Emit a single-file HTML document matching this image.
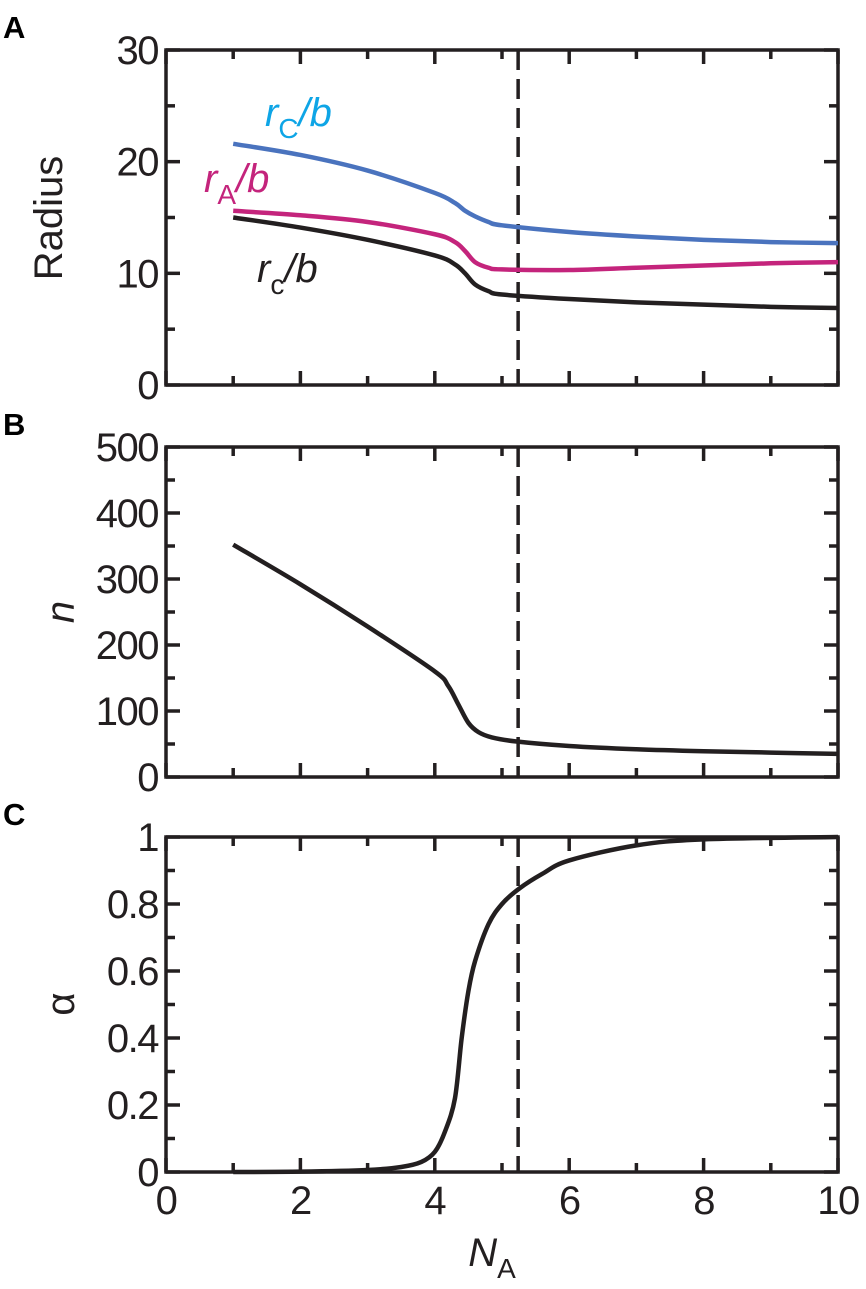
<!DOCTYPE html>
<html><head><meta charset="utf-8"><style>
body{margin:0;background:#fff}
svg text{font-family:"Liberation Sans",Arial,sans-serif}
</style></head><body>
<svg id="fig" width="866" height="1284" viewBox="0 0 866 1284" xmlns="http://www.w3.org/2000/svg"></svg>
<script>
const xs=[1,2,3,4,4.3,4.45,4.6,4.8,5,6,7,8,9,10];
const blueR=[21.6,20.6,19.2,17.2,16.3,15.6,15.1,14.6,14.3,13.7,13.3,13.0,12.8,12.7];
const magR=[15.6,15.2,14.6,13.5,12.8,12.0,11.0,10.5,10.35,10.3,10.5,10.7,10.9,11.0];
const blackR=[15.0,14.1,13.0,11.6,10.8,10.0,9.0,8.4,8.1,7.7,7.4,7.2,7.0,6.9];
const xsN=[1,2,3,4,4.2,4.35,4.5,4.65,4.85,5.2,6,7,8,9,10];
const nVals=[352,292,228,160,138,110,82,68,60,54,47,42,39,37,35];
const xsA=[1,2,3,3.5,3.8,4,4.15,4.3,4.4,4.5,4.6,4.8,5,5.25,5.6,6,7,8,10];
const alphaVals=[0,0.001,0.006,0.015,0.03,0.06,0.12,0.22,0.4,0.54,0.63,0.74,0.8,0.845,0.89,0.93,0.975,0.993,1];
const xTicks=[0,2,4,6,8,10];
const dashX=5.24;
const NS="http://www.w3.org/2000/svg";
const svg=document.getElementById('fig');
const L=166,R=838;
const sx=v=>L+(v/10)*(R-L);
function mk(t,a,p){const e=document.createElementNS(NS,t);for(const k in a)e.setAttribute(k,a[k]);(p||svg).appendChild(e);return e;}
function smooth(pts){let d=`M${pts[0][0]},${pts[0][1]}`;for(let i=0;i<pts.length-1;i++){const p0=pts[Math.max(0,i-1)],p1=pts[i],p2=pts[i+1],p3=pts[Math.min(pts.length-1,i+2)];
const c1=[p1[0]+(p2[0]-p0[0])/6,p1[1]+(p2[1]-p0[1])/6],c2=[p2[0]-(p3[0]-p1[0])/6,p2[1]-(p3[1]-p1[1])/6];d+=`C${c1[0]},${c1[1]} ${c2[0]},${c2[1]} ${p2[0]},${p2[1]}`;}return d;}
function panel(name,top,bot,ymax,major,minor,fmt,letter){
  const g=mk('g',{});
  
  
  const sy=v=>bot-(v/ymax)*(bot-top);
  const fr=mk('rect',{x:L,y:top,width:R-L,height:bot-top,fill:'none',stroke:'#231f20','stroke-width':3.5},g);
  
  
  for(let v=0;v<=10;v++){const len=v%2==0?14:9;
    mk('line',{x1:sx(v),x2:sx(v),y1:bot,y2:bot-len,stroke:'#231f20','stroke-width':3.5},g);
    mk('line',{x1:sx(v),x2:sx(v),y1:top,y2:top+len,stroke:'#231f20','stroke-width':3.5},g);}
  for(let v=0;v<=ymax+1e-9;v+=minor){const isM=Math.abs(v/major-Math.round(v/major))<1e-6;const len=isM?14:9;
    mk('line',{x1:L,x2:L+len,y1:sy(v),y2:sy(v),stroke:'#231f20','stroke-width':3.5},g);
    mk('line',{x1:R,x2:R-len,y1:sy(v),y2:sy(v),stroke:'#231f20','stroke-width':3.5},g);
    if(isM){const t=mk('text',{x:L-8,y:sy(v)+14,'text-anchor':'end','font-size':40,'letter-spacing':-1.5,fill:'#231f20'},g);t.textContent=fmt(v);
      
      }}
  const dl=mk('line',{x1:sx(dashX),x2:sx(dashX),y1:top,y2:bot,stroke:'#231f20','stroke-width':3.5,'stroke-dasharray':'20,9'},g);
  
  
  const lt=mk('text',{x:3,y:top-12,'font-size':31,'font-weight':'bold',fill:'#000'},g);lt.textContent=letter;
  
  
  return {g,sy};
}
function curve(g,xa,ya,sy,col,nm){const p=mk('path',{d:smooth(xa.map((x,i)=>[sx(x),sy(ya[i])])),fill:'none',stroke:col,'stroke-width':4.5},g);
  
  }
const A=panel('a',50,385,30,10,5,v=>String(v),'A');
curve(A.g,xs,blueR,A.sy,'#4a73be','line-rC');
curve(A.g,xs,magR,A.sy,'#c4247c','line-rA');
curve(A.g,xs,blackR,A.sy,'#231f20','line-rc');
function lab(x,y,main,sub,col,nm){const t=mk('text',{x:x,y:y,'font-size':40,'font-style':'italic',fill:col});
  t.innerHTML=`${main}<tspan font-style="normal" font-size="28" dy="12">${sub}</tspan><tspan dy="-12">/b</tspan>`;
  
  }
lab(265,126,'r','C','#0ea5e6','label-rC');
lab(204,192,'r','A','#c4247c','label-rA');
lab(257,282,'r','c','#231f20','label-rc');
const yl=mk('text',{x:0,y:0,transform:'translate(62,218) rotate(-90)','text-anchor':'middle','font-size':40,fill:'#231f20'});yl.textContent='Radius';


const B=panel('b',447,777,500,100,50,v=>String(Math.round(v)),'B');
curve(B.g,xsN,nVals,B.sy,'#231f20','line-n');
const yb=mk('text',{x:0,y:0,transform:'translate(74,612) rotate(-90)','text-anchor':'middle','font-size':40,'font-style':'italic',fill:'#231f20'});yb.textContent='n';


const C=panel('c',837,1172,1,0.2,0.1,v=>v<0.01?'0':(Math.abs(v-1)<1e-6?'1':v.toFixed(1)),'C');
curve(C.g,xsA,alphaVals,C.sy,'#231f20','line-alpha');
const yc=mk('text',{x:0,y:0,transform:'translate(74,1004) rotate(-90)','text-anchor':'middle','font-size':40,fill:'#231f20'});yc.textContent='α';


xTicks.forEach(v=>{const t=mk('text',{x:sx(v),y:1214,'text-anchor':'middle','font-size':40,'letter-spacing':-1.5,fill:'#231f20'});t.textContent=v;
  
  });
const xt=mk('text',{x:492,y:1266,'text-anchor':'middle','font-size':40,'font-style':'italic',fill:'#231f20'});
xt.innerHTML='N<tspan font-style="normal" font-size="28" dy="12">A</tspan>';


</script>
</body></html>
